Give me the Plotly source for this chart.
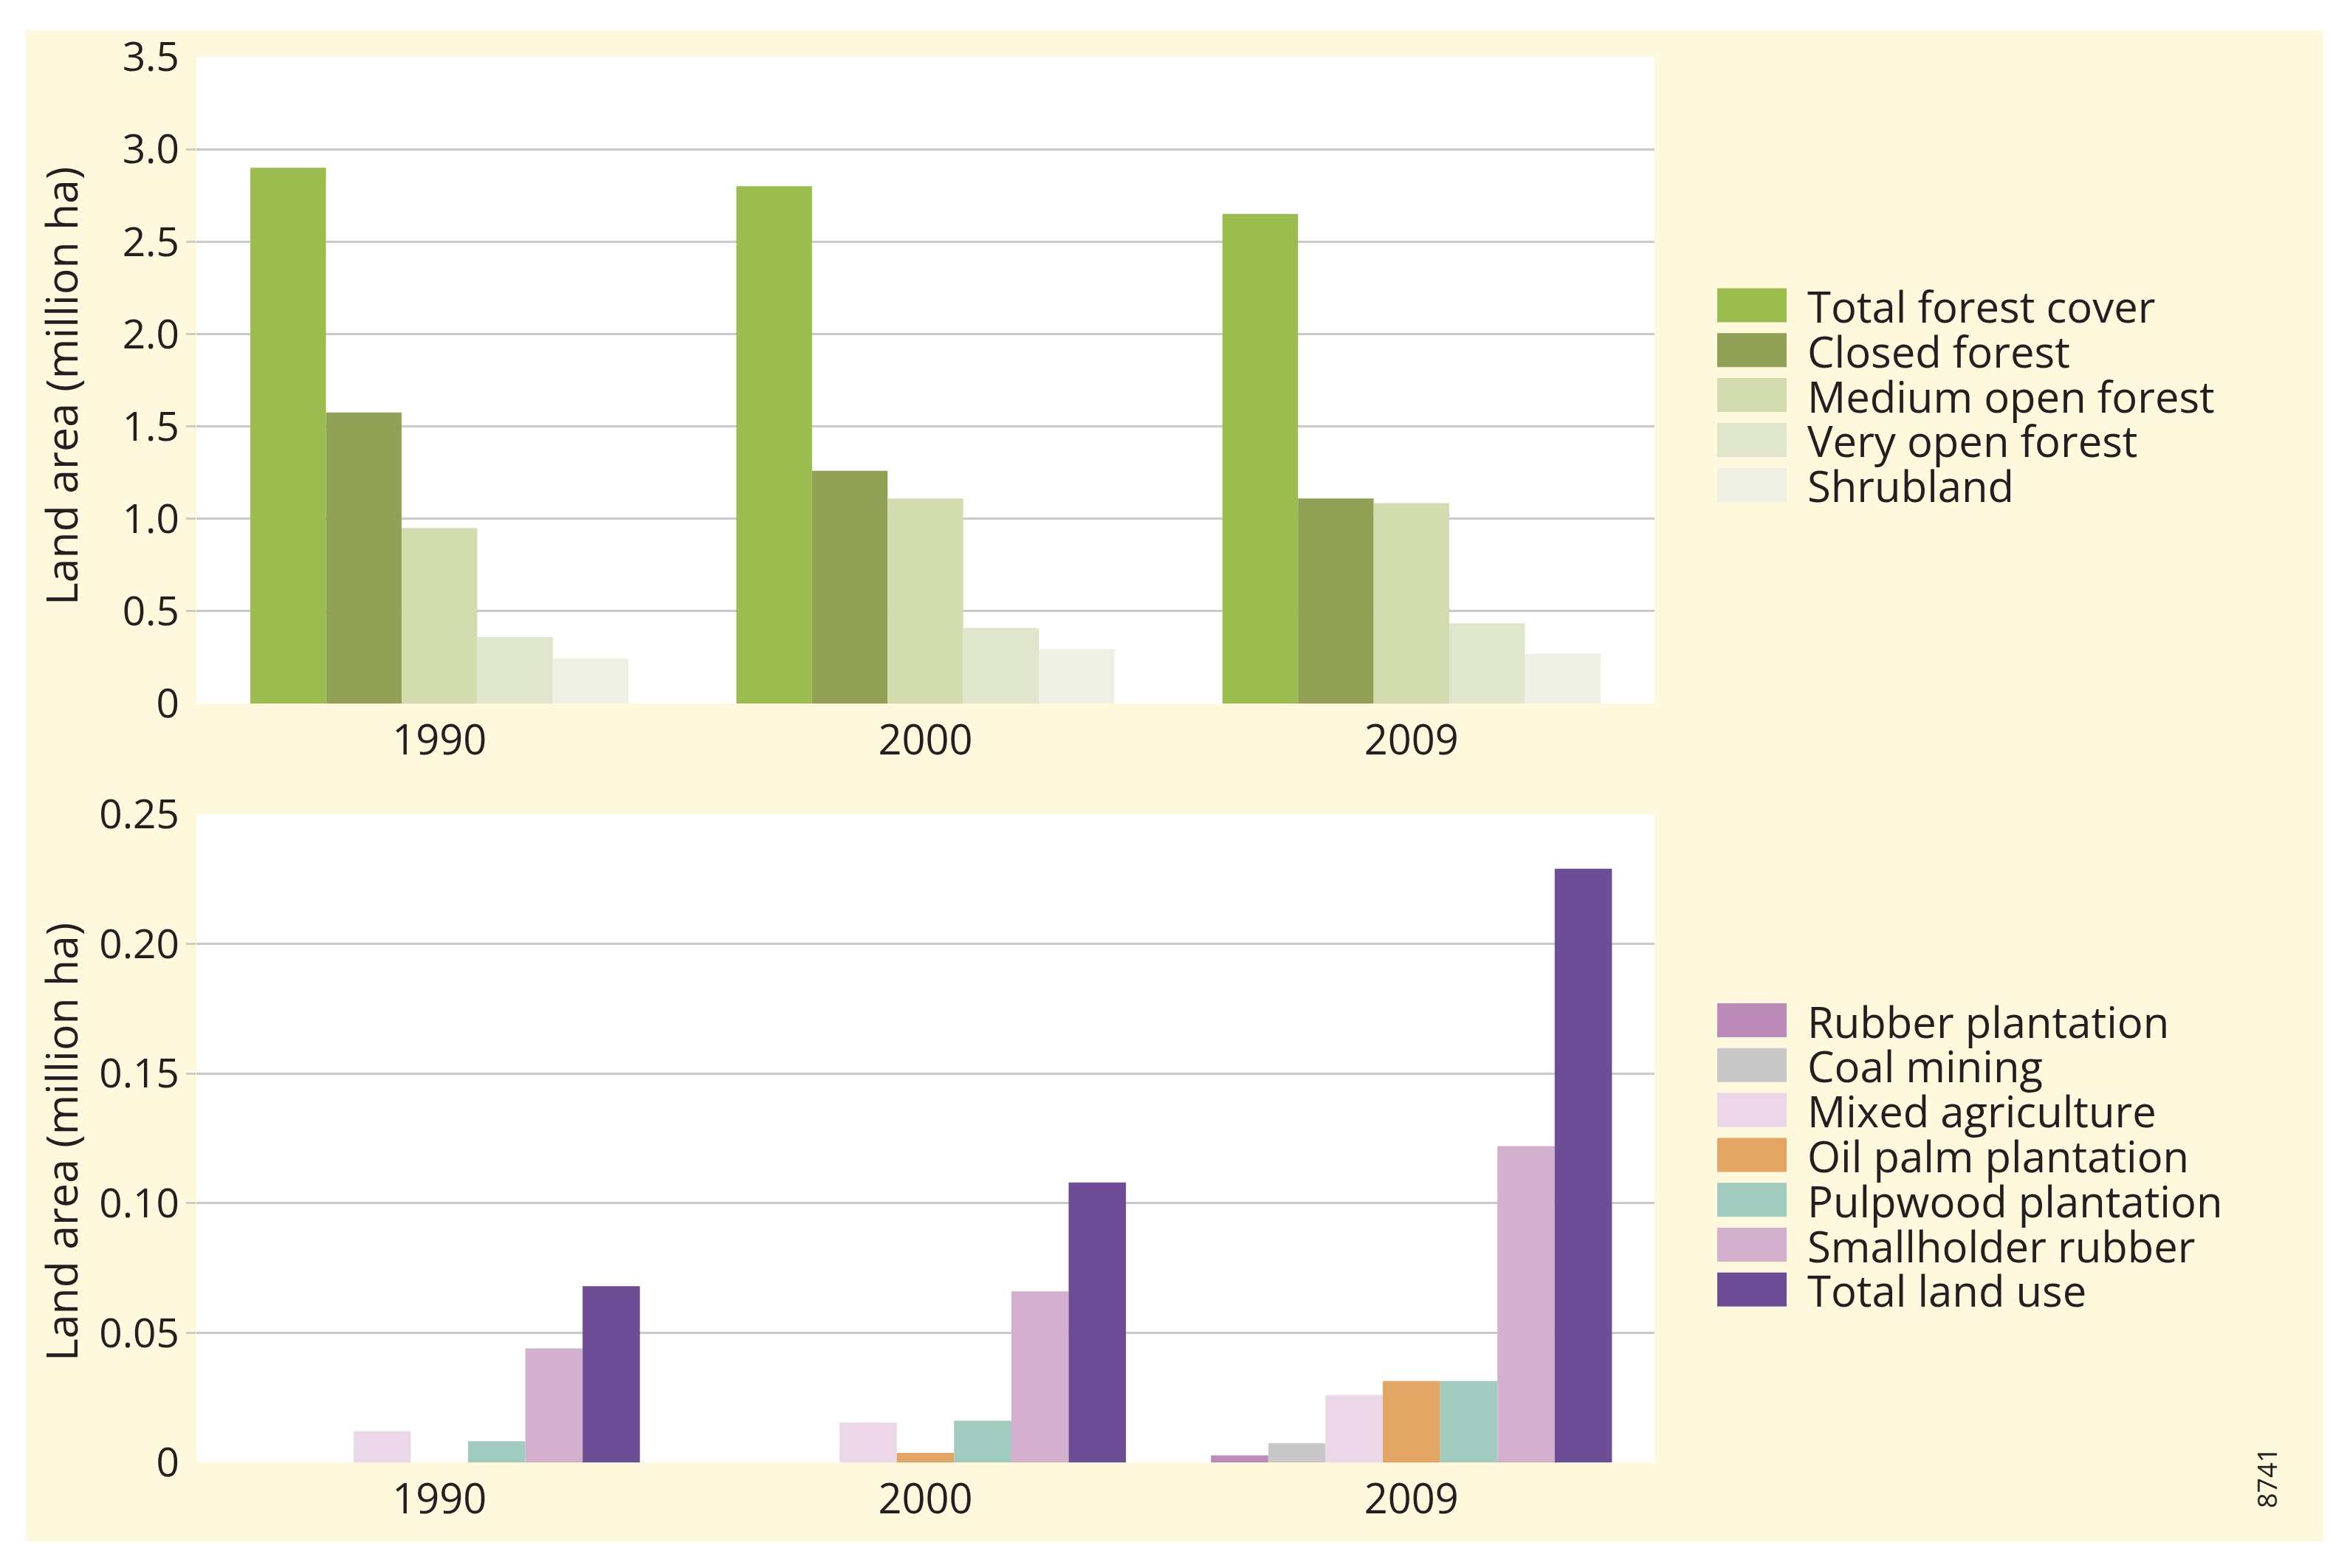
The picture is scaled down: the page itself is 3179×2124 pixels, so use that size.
import plotly.graph_objects as go

W, H = 3179, 2124

# ---------------- data ----------------
years = ["1990", "2000", "2009"]

forest_names = ["Total forest cover", "Closed forest", "Medium open forest",
                "Very open forest", "Shrubland"]
total_forest_cover = [2.90, 2.80, 2.65]
closed_forest = [1.575, 1.26, 1.11]
medium_open_forest = [0.95, 1.11, 1.085]
very_open_forest = [0.36, 0.41, 0.435]
shrubland = [0.245, 0.295, 0.27]
forest_colors = ["#9BBD4F", "#90A155", "#D3DCAE", "#E0E6CC", "#EEF0E3"]

landuse_names = ["Rubber plantation", "Coal mining", "Mixed agriculture",
                 "Oil palm plantation", "Pulpwood plantation",
                 "Smallholder rubber", "Total land use"]
rubber_plantation = [0, 0, 0.0027]
coal_mining = [0, 0, 0.0074]
mixed_agriculture = [0.012, 0.0154, 0.026]
oil_palm_plantation = [0, 0.0037, 0.0314]
pulpwood_plantation = [0.0082, 0.0161, 0.0314]
smallholder_rubber = [0.044, 0.066, 0.122]
total_land_use = [0.068, 0.108, 0.229]
landuse_colors = ["#BC8AB9", "#C8C8C8", "#EBD7E8", "#E2A563", "#A1CBBE",
                  "#D4B0CF", "#6D4E96"]

top_ticks = [0, 0.5, 1.0, 1.5, 2.0, 2.5, 3.0, 3.5]
top_ticktext = ["0", "0.5", "1.0", "1.5", "2.0", "2.5", "3.0", "3.5"]
bot_ticks = [0, 0.05, 0.10, 0.15, 0.20, 0.25]
bot_ticktext = ["0", "0.05", "0.10", "0.15", "0.20", "0.25"]

y_title = "Land area (million ha)"
fig_code = "8741"

# ---------------- style ----------------
FONT = "Open Sans"
TXT = "#231F20"
GRID = "#CACACA"
CREAM = "#FEF8DC"

forest_series = [total_forest_cover, closed_forest, medium_open_forest,
                 very_open_forest, shrubland]
landuse_series = [rubber_plantation, coal_mining, mixed_agriculture,
                  oil_palm_plantation, pulpwood_plantation,
                  smallholder_rubber, total_land_use]

fig = go.Figure()

def add_group(series, names, colors, group_width, xa, ya):
    n = len(series)
    w = group_width / n
    for i, (vals, nm, col) in enumerate(zip(series, names, colors)):
        fig.add_trace(go.Bar(
            x=years, y=vals, name=nm, marker_color=col,
            marker_line_width=0, width=w, offset=-group_width / 2 + i * w,
            xaxis=xa, yaxis=ya, showlegend=False))

add_group(forest_series, forest_names, forest_colors, 0.778, "x", "y")
add_group(landuse_series, landuse_names, landuse_colors, 0.825, "x2", "y2")

# target pixel boxes on the page (page body adds an 8 px offset)
OFF = 8
PL, PR = 266, 2241
TOP_T, TOP_B = 77, 953
BOT_T, BOT_B = 1103, 1981

def px(x):
    return (x - OFF) / W

def py(y):
    return 1 - (y - OFF) / H

xcommon = dict(type="category", domain=[px(PL), px(PR)], showgrid=False,
               zeroline=False, showline=False, ticks="", automargin=False,
               tickfont=dict(family=FONT, size=56, color=TXT),
               ticklabelstandoff=12)

def ycommon(ticks, text, rng, dom):
    return dict(range=rng, domain=dom, tickvals=ticks, ticktext=text,
                showgrid=False, zeroline=False, showline=False, ticks="",
                automargin=False,
                tickfont=dict(family=FONT, size=55, color=TXT),
                ticklabelstandoff=22,
                minor=dict(tickvals=ticks[1:-1], showgrid=True, gridcolor=GRID,
                           gridwidth=2.5, ticks="outside", ticklen=13,
                           tickcolor=GRID, tickwidth=2.5))

fig.update_layout(
    width=W, height=H, autosize=False,
    margin=dict(l=0, r=0, t=0, b=0, pad=0, autoexpand=False),
    paper_bgcolor="white", plot_bgcolor="white",
    barmode="group",
    xaxis=dict(xcommon, anchor="y"),
    yaxis=ycommon(top_ticks, top_ticktext, [0, 3.5], [py(TOP_B), py(TOP_T)]),
    xaxis2=dict(xcommon, anchor="y2"),
    yaxis2=dict(ycommon(bot_ticks, bot_ticktext, [0, 0.25], [py(BOT_B), py(BOT_T)]),
                anchor="x2"),
    font=dict(family=FONT, color=TXT),
)

shapes = [
    dict(type="rect", xref="paper", yref="paper", x0=px(35), x1=px(3147),
         y0=py(2088), y1=py(41), fillcolor=CREAM, line_width=0, layer="below"),
    dict(type="rect", xref="x domain", yref="y domain", x0=0, x1=1, y0=0, y1=1,
         fillcolor="white", line_width=0, layer="below"),
    dict(type="rect", xref="x2 domain", yref="y2 domain", x0=0, x1=1, y0=0, y1=1,
         fillcolor="white", line_width=0, layer="below"),
]
annotations = []

# y-axis titles
for yc in [(TOP_T + TOP_B) / 2 + 8, (BOT_T + BOT_B) / 2 + 5]:
    annotations.append(dict(text=y_title, xref="paper", yref="paper",
                            x=px(82), y=py(yc), xanchor="center", yanchor="middle",
                            textangle=-90, showarrow=False,
                            font=dict(family=FONT, size=59, color=TXT)))

# legends (built from the series names and colours)
SW_L, SW_R, TXT_X, SW_H, PITCH = 2326, 2420, 2446, 46, 60.8

def add_legend(names, colors, first_center):
    for i, (nm, col) in enumerate(zip(names, colors)):
        c = first_center + i * PITCH
        shapes.append(dict(type="rect", xref="paper", yref="paper",
                           x0=px(SW_L), x1=px(SW_R), y0=py(c + SW_H / 2),
                           y1=py(c - SW_H / 2), fillcolor=col, line_width=0))
        annotations.append(dict(text=nm, xref="paper", yref="paper",
                                x=px(TXT_X), y=py(c + 1), xanchor="left",
                                yanchor="middle", showarrow=False,
                                font=dict(family=FONT, size=58, color=TXT)))

add_legend(forest_names, forest_colors, 413.5)
add_legend(landuse_names, landuse_colors, 1382)

annotations.append(dict(text=fig_code, xref="paper", yref="paper",
                        x=px(3070), y=py(2002), xanchor="center", yanchor="middle",
                        textangle=-90, showarrow=False,
                        font=dict(family=FONT, size=36, color=TXT)))

fig.update_layout(shapes=shapes, annotations=annotations)
fig.write_html("out.html")
